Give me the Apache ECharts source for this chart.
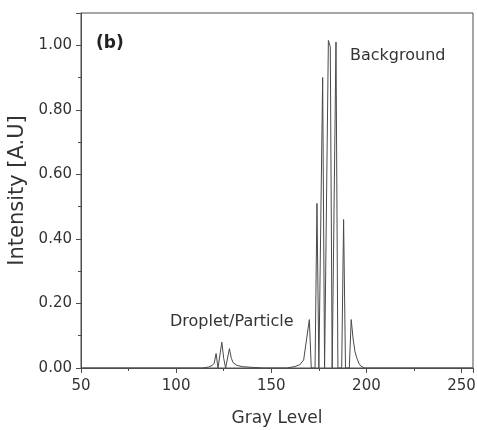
<!DOCTYPE html>
<html>
<head>
<meta charset="utf-8">
<script src="https://cdn.jsdelivr.net/npm/echarts@6/dist/echarts.min.js"></script>
<style>
  html, body { margin: 0; padding: 0; background: #fff; }
  #chart { width: 477px; height: 430px; }
</style>
</head>
<body>
<div id="chart"></div>
<script>
// Gray-level histogram: sparse comb of occupied bins
const grayLevel = [50, 114, 117, 119, 120, 121, 122, 123, 124, 125, 126, 127, 128, 129, 130, 132, 135, 140, 146,
  158, 162, 165, 167, 170, 171, 173, 174, 175, 176, 177, 178, 179, 180, 181, 182, 183, 184, 185, 187, 188,
  189, 191, 192, 193, 194, 195, 196, 197, 199, 256];
const intensity = [0, 0, 0.003, 0.008, 0.015, 0.045, 0, 0, 0.08, 0.03, 0, 0, 0.06, 0.03, 0.016, 0.008, 0.004, 0.002, 0,
  0, 0.004, 0.01, 0.025, 0.15, 0, 0, 0.51, 0, 0, 0.90, 0, 0, 1.015, 0.995, 0, 0, 1.01, 0, 0, 0.46,
  0, 0, 0.15, 0.09, 0.05, 0.03, 0.015, 0.006, 0, 0];

const xTicks = [50, 100, 150, 200, 250];
const yTicks = [0, 0.2, 0.4, 0.6, 0.8, 1.0];

const points = grayLevel.map((g, i) => [g, intensity[i]]);

const axisColor = '#4d4d4d';
const textColor = '#333';
const font = '"DejaVu Sans", "Liberation Sans", Arial, sans-serif';

const chart = echarts.init(document.getElementById('chart'), null, { renderer: 'canvas' });
chart.setOption({
  animation: false,
  backgroundColor: '#fff',
  grid: {
    left: 81, right: 4, top: 13, bottom: 62,
    outerBoundsMode: 'none', containLabel: false,
    show: true, borderColor: axisColor, borderWidth: 1
  },
  xAxis: {
    type: 'value', min: 50, max: 256, interval: 50,
    name: 'Gray Level', nameLocation: 'middle', nameGap: 42,
    nameTextStyle: { fontSize: 17, color: textColor, fontFamily: font },
    axisLine: { show: true, lineStyle: { color: axisColor, width: 1 } },
    axisTick: { show: true, inside: false, length: 5, lineStyle: { color: axisColor } },
    minorTick: { show: true, splitNumber: 2, length: 3, lineStyle: { color: axisColor } },
    splitLine: { show: false },
    axisLabel: {
      fontSize: 15, color: textColor, fontFamily: font, margin: 11,
      showMaxLabel: false,
      formatter: v => xTicks.includes(v) ? String(v) : ''
    }
  },
  yAxis: {
    type: 'value', min: 0, max: 1.1, interval: 0.2,
    name: 'Intensity [A.U]', nameLocation: 'middle', nameGap: 49,
    nameTextStyle: { fontSize: 21, color: textColor, fontFamily: font },
    axisLine: { show: true, lineStyle: { color: axisColor, width: 1 } },
    axisTick: { show: true, inside: false, length: 5, lineStyle: { color: axisColor } },
    minorTick: { show: true, splitNumber: 2, length: 3, lineStyle: { color: axisColor } },
    splitLine: { show: false },
    axisLabel: {
      fontSize: 15, color: textColor, fontFamily: font, margin: 9,
      showMaxLabel: false,
      formatter: v => yTicks.some(t => Math.abs(t - v) < 1e-9) ? v.toFixed(2) : ''
    }
  },
  series: [{
    type: 'line',
    data: points,
    showSymbol: false,
    lineStyle: { color: '#4a4a4a', width: 1 },
    silent: true
  }],
  graphic: [
    { type: 'text', left: 96, top: 35, style: { text: '(b)', font: 'bold 17px ' + font, fill: '#222' } },
    { type: 'text', left: 350, top: 48, style: { text: 'Background', font: '16px ' + font, fill: textColor } },
    { type: 'text', left: 170, top: 314, style: { text: 'Droplet/Particle', font: '16px ' + font, fill: textColor } }
  ]
});
</script>
</body>
</html>
